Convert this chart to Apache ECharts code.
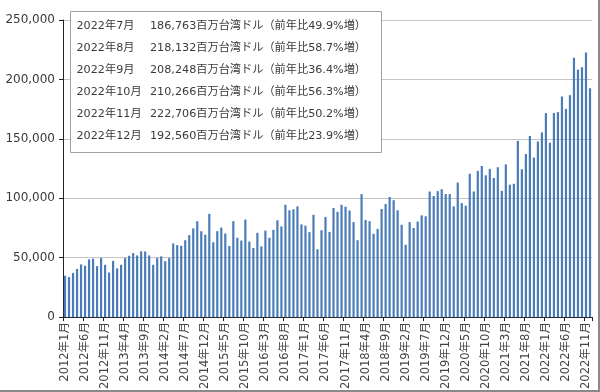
<!DOCTYPE html>
<html>
<head>
<meta charset="utf-8">
<script src="https://cdn.jsdelivr.net/npm/echarts@6/dist/echarts.min.js"></script>
<style>
html,body{margin:0;padding:0;background:#fff;}
#wrap{position:relative;width:600px;height:392px;overflow:hidden;}
#chart{width:600px;height:392px;}
#frame{position:absolute;left:0;top:0;width:600px;height:392px;box-sizing:border-box;border-right:2px solid #8a8a8a;border-bottom:2px solid #8a8a8a;pointer-events:none;}
</style>
</head>
<body>
<div id="wrap"><div id="chart"></div><div id="frame"></div></div>
<script>
// Category labels: monthly, 2012年1月 .. 2022年12月
const years = [2012,2013,2014,2015,2016,2017,2018,2019,2020,2021,2022];
const months = [1,2,3,4,5,6,7,8,9,10,11,12];
const categories = [];
years.forEach(y => months.forEach(m => categories.push(y + '年' + m + '月')));

// Monthly values (百万台湾ドル)
const values2012 = [34800,33700,37200,40500,44300,43200,48600,49200,42900,49700,44000,37500];
const values2013 = [47300,41000,44000,49700,51600,53800,51900,55400,55200,51900,44000,49700];
const values2014 = [51100,47000,49700,62000,60600,60000,64700,69000,74700,80700,72300,69300];
const values2015 = [86900,63000,72300,75300,70400,59800,80700,66800,64400,82100,63600,58100];
const values2016 = [70900,59500,72800,66800,73400,81500,76300,94600,89900,90700,93200,78000];
const values2017 = [76900,71500,86100,57100,73100,84300,71700,91800,88600,94500,92900,89700];
const values2018 = [79900,64700,103500,81800,80700,70100,74200,91000,95100,101100,98400,89900];
const values2019 = [77700,60900,79900,75000,80400,85600,84800,105700,101900,106000,107600,103500];
const values2020 = [103500,93200,113200,95900,93700,120600,105700,123100,127200,119300,124700,117100];
const values2021 = [126100,106200,128500,111400,112200,148300,124400,137200,152400,134200,147800,155400];
const values2022 = [171700,146700,171700,172500,185600,175200,186763,218132,208248,210266,222706,192560];
const seriesValues = [].concat(values2012,values2013,values2014,values2015,values2016,values2017,
  values2018,values2019,values2020,values2021,values2022);

// Y-axis ticks
const yTicks = [0,50000,100000,150000,200000,250000];

// Note box contents
const noteMonths = ['2022年7月','2022年8月','2022年9月','2022年10月','2022年11月','2022年12月'];
const noteAmounts = ['186,763','218,132','208,248','210,266','222,706','192,560'];
const noteYoY = ['49.9','58.7','36.4','56.3','50.2','23.9'];

const FONT = '"DejaVu Sans", Verdana, "Noto Sans CJK JP", sans-serif';
const TXT = '#3a3a3a';

const graphics = [{
  type:'rect', z:100, silent:true,
  shape:{x:70.5, y:11.5, width:311, height:141},
  style:{fill:'#ffffff', stroke:'#a0a0a0', lineWidth:1}
}];
noteMonths.forEach((m,i) => {
  const y = 25.7 + i*22.05;
  graphics.push({type:'text', z:101, x:76.5, y:y, silent:true,
    style:{text:m, fontSize:11.2, fontFamily:FONT, fill:TXT, verticalAlign:'middle'}});
  graphics.push({type:'text', z:101, x:150, y:y, silent:true,
    style:{text:noteAmounts[i]+'百万台湾ドル（前年比'+noteYoY[i]+'%増）', fontSize:11.2, fontFamily:FONT, fill:TXT, verticalAlign:'middle'}});
});

const chart = echarts.init(document.getElementById('chart'), null, {renderer:'canvas'});
chart.setOption({
  animation:false,
  backgroundColor:'#fff',
  grid:{left:63, right:8, top:20, bottom:65, containLabel:false},
  xAxis:{
    type:'category', data:categories, boundaryGap:true,
    axisLine:{show:true, lineStyle:{color:'#222', width:1}},
    axisTick:{show:true, interval:4, alignWithLabel:false, length:4, lineStyle:{color:'#222'}},
    axisLabel:{interval:4, rotate:90, fontSize:11.5, fontFamily:FONT, color:'#444', margin:5},
    splitLine:{show:false}
  },
  yAxis:{
    type:'value', min:yTicks[0], max:yTicks[yTicks.length-1], interval:50000,
    axisLine:{show:true, lineStyle:{color:'#222', width:1}},
    axisTick:{show:true, length:4, lineStyle:{color:'#222'}},
    axisLabel:{fontSize:12, fontFamily:FONT, color:TXT, margin:8,
      formatter:v => v.toLocaleString('en-US')},
    splitLine:{show:true, lineStyle:{color:'#c4c4c4', width:1}}
  },
  series:[{
    type:'bar', data:seriesValues, barWidth:2.2,
    itemStyle:{color:'#4a7cba'}, silent:true
  }],
  graphic:graphics
});
</script>
</body>
</html>
